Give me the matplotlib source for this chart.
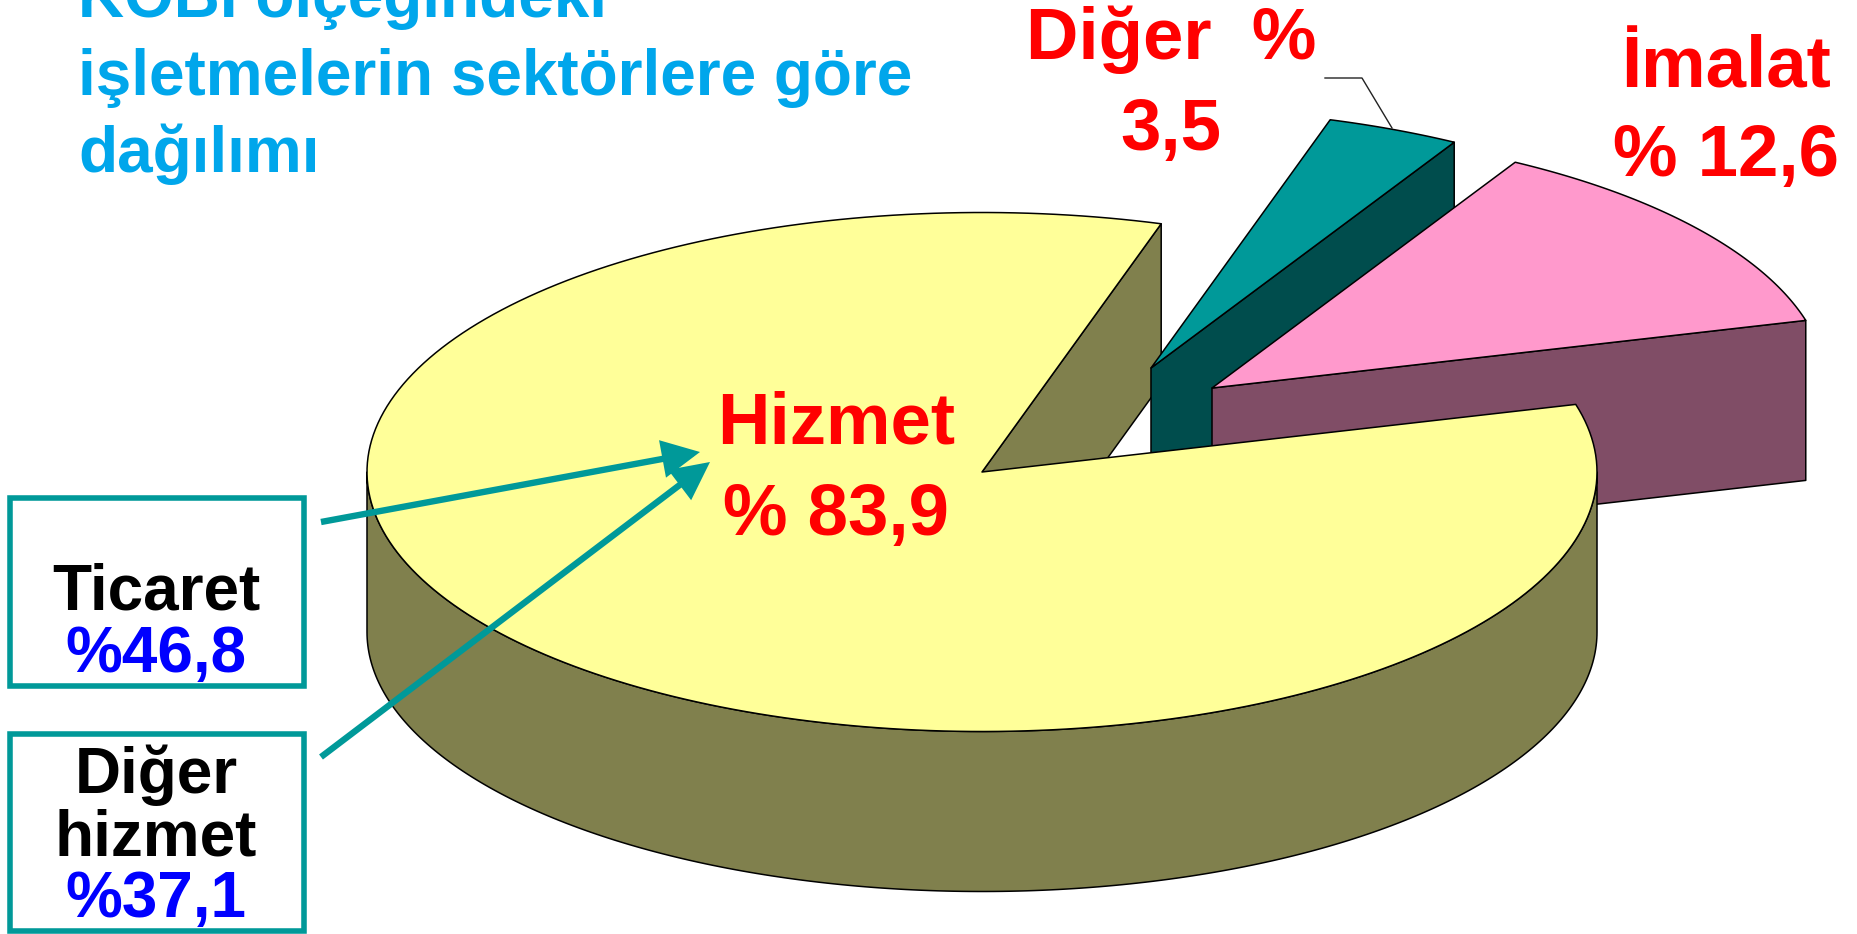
import numpy as np
import matplotlib
matplotlib.use("Agg")
import matplotlib.pyplot as plt
from matplotlib.patches import Polygon, Rectangle

plt.rcParams['font.family'] = ['Liberation Sans', 'DejaVu Sans']

# --- data ---
sectors = ['Hizmet', 'İmalat', 'Diğer']
shares = [83.9, 12.6, 3.5]
sector_labels = [['Hizmet', '% 83,9'], ['İmalat', '% 12,6'], ['Diğer  %', '3,5']]
sub_names = [['Ticaret'], ['Diğer', 'hizmet']]
sub_labels = ['%46,8', '%37,1']
title_lines = ['KOBİ ölçeğindeki', 'işletmelerin sektörlere göre', 'dağılımı']

# --- style / layout ---
W, H = 1857, 934
RX, RY, DEPTH = 615, 259.5, 160
START = 15.1
CENTER = (982, 472)
OFFSETS = {'Hizmet': (0, 0), 'İmalat': (230, -84), 'Diğer': (169, -104)}
TOP = {'Hizmet': '#FFFF99', 'İmalat': '#FF99CC', 'Diğer': '#009999'}
SIDE = {'Hizmet': '#80804D', 'İmalat': '#804D66', 'Diğer': '#004D4D'}
EDGE = dict(edgecolor='black', linewidth=1.1, joinstyle='round')
TEAL = '#009999'
SKY = '#00A6EB'

fig = plt.figure(figsize=(W / 100, H / 100), dpi=100, facecolor='white')
ax = fig.add_axes([0, 0, 1, 1])
ax.set_xlim(0, W)
ax.set_ylim(H, 0)
ax.axis('off')

# angular extent of each wedge, from the values
total = sum(shares)
sweep = [s / total * 360 for s in shares]
ranges = {}
a = START
for name in ['İmalat', 'Diğer', 'Hizmet']:
    d = sweep[sectors.index(name)]
    ranges[name] = (a, a + d)
    a += d


def centre(name):
    ox, oy = OFFSETS[name]
    return CENTER[0] + ox, CENTER[1] + oy


def rim(name, t):
    cx, cy = centre(name)
    t = np.radians(t)
    return np.column_stack([cx + RX * np.cos(t), cy - RY * np.sin(t)])


def top_face(name, z):
    t0, t1 = ranges[name]
    pts = rim(name, np.linspace(t0, t1, 240))
    poly = np.vstack([[centre(name)], pts])
    ax.add_patch(Polygon(poly, closed=True, facecolor=TOP[name], zorder=z, **EDGE))


def cut_face(name, t, z):
    c = np.array(centre(name), float)
    r = rim(name, np.array([t]))[0]
    down = np.array([0, DEPTH])
    ax.add_patch(Polygon([c, r, r + down, c + down], closed=True,
                         facecolor=SIDE[name], zorder=z, **EDGE))


def wall(name, t0, t1, z):
    pts = rim(name, np.linspace(t0, t1, 240))
    poly = np.vstack([pts, (pts + [0, DEPTH])[::-1]])
    ax.add_patch(Polygon(poly, closed=True, facecolor=SIDE[name], zorder=z, **EDGE))


# painter's order: back to front
cut_face('Hizmet', ranges['Hizmet'][0], 1)
cut_face('Diğer', ranges['Diğer'][0], 2)
top_face('Diğer', 3)
cut_face('İmalat', ranges['İmalat'][0], 4)
top_face('İmalat', 5)
wall('Hizmet', 180, 360, 6)
top_face('Hizmet', 7)

# leader line of the small slice
ax.plot([1325, 1362, 1392], [78, 78, 128], color='#222222', lw=1.0, zorder=8)

# title
for line, y in zip(title_lines, [17, 95, 172]):
    ax.text(78, y, line, color=SKY, fontsize=46.0, fontweight='bold',
            ha='left', va='baseline', zorder=10)

# sector labels
RED = dict(color='#FF0000', fontsize=52.3, fontweight='bold', ha='center', va='baseline', zorder=10)
for (l1, l2), x, y1, y2 in zip(sector_labels, [836, 1726, 1171], [443, 87, 59], [535, 176, 150]):
    ax.text(x, y1, l1, **RED)
    ax.text(x, y2, l2, **RED)

# boxes
for y0, y1 in [(498, 686), (734, 931)]:
    ax.add_patch(Rectangle((9.5, y0), 294, y1 - y0, facecolor='white',
                           edgecolor=TEAL, linewidth=4, joinstyle='miter', zorder=9))

BLACK = dict(color='black', fontsize=46, fontweight='bold', ha='center', va='baseline', zorder=10)
BLUE = dict(color='#0000FF', fontsize=46, fontweight='bold', ha='center', va='baseline', zorder=10)
ax.text(156, 610, sub_names[0][0], **BLACK)
ax.text(156, 672, sub_labels[0], **BLUE)
ax.text(156, 793, sub_names[1][0], **BLACK)
ax.text(156, 855, sub_names[1][1], **BLACK)
ax.text(156, 917, sub_labels[1], **BLUE)

# arrows from the boxes to the Hizmet label
for start, tip in [((321, 522), (700, 452)), ((321, 757), (710, 462))]:
    ax.annotate('', xy=tip, xytext=start, zorder=11,
                arrowprops=dict(arrowstyle='-|>,head_length=1.0,head_width=0.5',
                                color=TEAL, lw=4.6, shrinkA=0, shrinkB=0,
                                joinstyle='miter', capstyle='butt',
                                mutation_scale=20))

fig.savefig('out.png', dpi=100)
